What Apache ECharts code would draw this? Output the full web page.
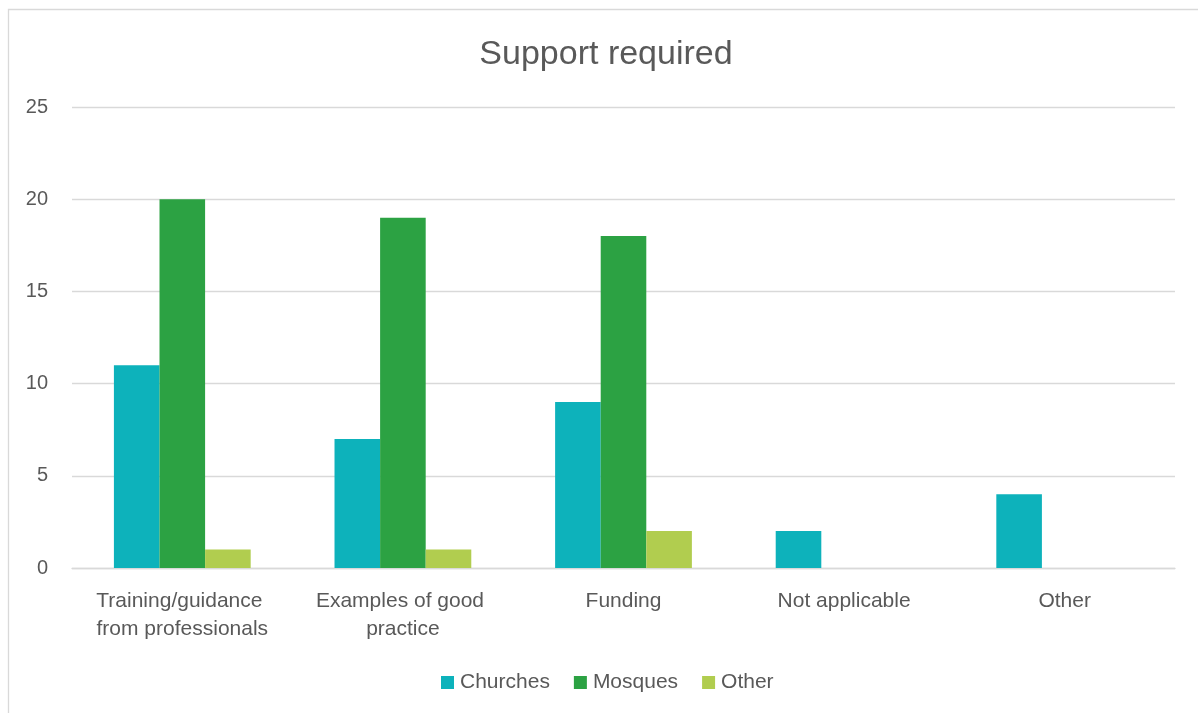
<!DOCTYPE html>
<html>
<head>
<meta charset="utf-8">
<script src="https://cdn.jsdelivr.net/npm/echarts@6/dist/echarts.min.js"></script>
<style>
  html, body { margin: 0; padding: 0; background: #fff; }
  #chart { width: 1198px; height: 713px; }
</style>
</head>
<body>
<div id="chart"></div>
<script>
// Survey answers: what support is required, by type of place of worship
const categories = ['Training/guidance from professionals', 'Examples of good practice', 'Funding', 'Not applicable', 'Other'];
const churches = [11, 7, 9, 2, 4];
const mosques = [20, 19, 18, 0, 0];
const other = [1, 1, 2, 0, 0];
const yTicks = [0, 5, 10, 15, 20, 25];

const FONT = '"Liberation Sans", sans-serif';
const TEXT = '#595959';
const GRID = '#D9D9D9';

const chart = echarts.init(document.getElementById('chart'), null, { renderer: 'canvas' });

function bar(name, data, color) {
  return {
    name, type: 'bar', data,
    barGap: '0%', barCategoryGap: '38%',
    itemStyle: { color },
    emphasis: { disabled: true }
  };
}

chart.setOption({
  animation: false,
  backgroundColor: '#fff',
  graphic: [{
    type: 'rect', left: 6, top: 7,
    shape: { width: 1220, height: 740 },
    style: { fill: 'none', stroke: '#D9D9D9', lineWidth: 1.3 },
    silent: true
  }],
  title: {
    text: 'Support required',
    left: 601, top: 33, textAlign: 'center',
    textStyle: { fontFamily: FONT, fontSize: 34, fontWeight: 'normal', color: TEXT }
  },
  legend: {
    data: ['Churches', 'Mosques', 'Other'],
    left: 436, top: 667,
    icon: 'rect', itemWidth: 13, itemHeight: 13, itemGap: 24,
    textStyle: { fontFamily: FONT, fontSize: 21, color: TEXT, padding: [0, 0, 0, 1] }
  },
  grid: { left: 72, right: 23, top: 107, bottom: 145, containLabel: false },
  xAxis: {
    type: 'category', data: categories,
    axisLine: { show: true, lineStyle: { color: GRID, width: 1.3 } },
    axisTick: { show: false },
    axisLabel: {
      fontFamily: FONT, fontSize: 21, color: TEXT, margin: 19,
      lineHeight: 28, width: 200, overflow: 'break', interval: 0
    }
  },
  yAxis: {
    type: 'value', min: yTicks[0], max: yTicks[yTicks.length - 1], interval: 5,
    axisLine: { show: false }, axisTick: { show: false },
    axisLabel: { fontFamily: FONT, fontSize: 20, color: TEXT, margin: 24 },
    splitLine: { lineStyle: { color: GRID, width: 1.3 } }
  },
  series: [
    bar('Churches', churches, '#0DB2BB'),
    bar('Mosques', mosques, '#2CA243'),
    bar('Other', other, '#B1CD4F')
  ]
});
</script>
</body>
</html>
